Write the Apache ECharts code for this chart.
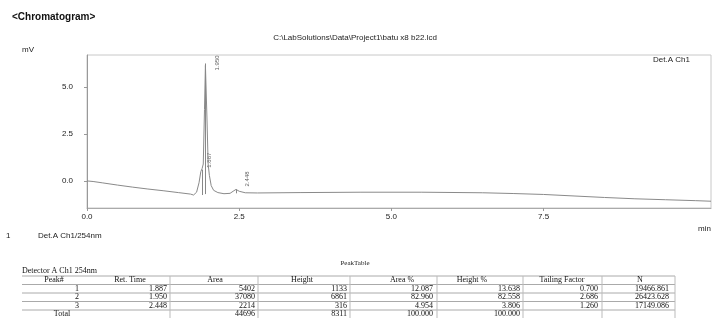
<!DOCTYPE html>
<html>
<head>
<meta charset="utf-8">
<script src="https://cdn.jsdelivr.net/npm/echarts@6/dist/echarts.min.js"></script>
<style>
  html, body { margin: 0; padding: 0; background: #fff; }
  #chart { width: 712px; height: 320px; }
</style>
</head>
<body>
<div id="chart"></div>
<script>
// chromatogram trace: [time (min), signal (mV)]
const trace = [
  [0, 0.0], [0.1, -0.03], [0.25, -0.1], [0.5, -0.22], [0.75, -0.33], [1.0, -0.43],
  [1.25, -0.52], [1.5, -0.62], [1.7, -0.7], [1.75, -0.75], [1.8, -0.6], [1.84, -0.1],
  [1.87, 0.5], [1.89, 0.65], [1.91, 0.9], [1.93, 3.8], [1.945, 6.15], [1.955, 6.25],
  [1.97, 3.4], [1.99, 0.9], [2.01, 0.3], [2.04, -0.25], [2.08, -0.5], [2.15, -0.62],
  [2.25, -0.68], [2.35, -0.66], [2.4, -0.55], [2.448, -0.45], [2.5, -0.55], [2.6, -0.63],
  [2.8, -0.64], [3.5, -0.62], [4.5, -0.6], [5.5, -0.6], [6.5, -0.63], [7.0, -0.67],
  [7.5, -0.72], [8.0, -0.8], [8.5, -0.88], [9.0, -0.95], [9.5, -1.0], [10.0, -1.05], [10.25, -1.08]
];
const peakTimes = [1.887, 1.950, 2.448];
const peakTops = [0.6, 6.25, -0.45];
const peakBases = [-0.75, -0.7, -0.66];
const xTicks = [0, 2.5, 5, 7.5];
const yTicks = [0, 2.5, 5];

// peak table
const tableTitle = 'PeakTable';
const detectorName = 'Detector A Ch1 254nm';
const tableHeader = ['Peak#', 'Ret. Time', 'Area', 'Height', 'Area %', 'Height %', 'Tailing Factor', 'N'];
const peakNo = ['1', '2', '3'];
const retTimes = ['1.887', '1.950', '2.448'];
const areas = ['5402', '37080', '2214'];
const heights = ['1133', '6861', '316'];
const areaPct = ['12.087', '82.960', '4.954'];
const heightPct = ['13.638', '82.558', '3.806'];
const tailing = ['0.700', '2.686', '1.260'];
const plates = ['19466.861', '26423.628', '17149.086'];
const totals = ['Total', '', '44696', '8311', '100.000', '100.000', '', ''];

// layout for the table
const colRight = [79, 167, 255, 347, 433, 520, 598, 669];
const colCenter = [54, 130, 215, 302, 402, 472, 562, 640];
const colLines = [170, 258, 350, 437, 523, 602, 675];
const rowY = [280, 288.5, 297, 305.5, 314];
// label offsets in the rotated frame: [up, right]
const peakLabelOffset = [[2, 7], [-7, 12], [3, 11]];

const chart = echarts.init(document.getElementById('chart'), null, { renderer: 'canvas' });

const font = 'Liberation Sans, Arial, sans-serif';
const serif = 'Liberation Serif, Times New Roman, serif';
const txt = (x, y, text, o = {}) => ({
  type: 'text', x, y,
  style: Object.assign({ text, fill: '#222', font: '8px ' + font, textVerticalAlign: 'middle' }, o)
});

const graphics = [
  txt(12, 17, '<Chromatogram>', { font: 'bold 10px ' + font, fill: '#111' }),
  txt(22, 50, 'mV'),
  txt(355, 38, 'C:\\LabSolutions\\Data\\Project1\\batu x8 b22.lcd', { textAlign: 'center' }),
  txt(653, 60, 'Det.A Ch1'),
  txt(698, 229, 'min'),
  txt(6, 236, '1'),
  txt(38, 236, 'Det.A Ch1/254nm'),
  txt(355, 263, tableTitle, { textAlign: 'center', font: '7px ' + serif }),
  txt(22, 271, detectorName, { font: '8px ' + serif, fill: '#111' })
];

// table lines
[276, 284.5, 293, 301.5, 310].forEach(y => {
  graphics.push({ type: 'line', shape: { x1: 22, y1: y, x2: 675, y2: y }, style: { stroke: '#aaa', lineWidth: 1 } });
});
colLines.forEach(x => {
  graphics.push({ type: 'line', shape: { x1: x, y1: 276, x2: x, y2: 318 }, style: { stroke: '#bbb', lineWidth: 1 } });
});

// table text
tableHeader.forEach((h, i) => {
  graphics.push(txt(colCenter[i], rowY[0], h, { textAlign: 'center', font: '8px ' + serif, fill: '#111' }));
});
const rows = peakNo.map((p, i) => [p, retTimes[i], areas[i], heights[i], areaPct[i], heightPct[i], tailing[i], plates[i]]);
rows.forEach((r, ri) => {
  r.forEach((v, ci) => {
    graphics.push(txt(colRight[ci], rowY[ri + 1], v, { textAlign: 'right', font: '8px ' + serif, fill: '#111' }));
  });
});
totals.forEach((v, ci) => {
  if (!v) return;
  const isLabel = ci === 0;
  graphics.push(txt(isLabel ? 62 : colRight[ci], rowY[4], v,
    { textAlign: isLabel ? 'center' : 'right', font: '8px ' + serif, fill: '#111' }));
});

const option = {
  backgroundColor: '#fff',
  animation: false,
  grid: { left: 87, right: 1, top: 55, bottom: 112, show: true, borderColor: '#c8c8c8', borderWidth: 1 },
  xAxis: {
    type: 'value',
    min: 0,
    max: 10.25,
    axisLine: { show: true, onZero: false, lineStyle: { color: '#aaa' } },
    axisTick: { show: true, customValues: xTicks, length: 3, lineStyle: { color: '#999' } },
    axisLabel: {
      customValues: xTicks, color: '#222', fontSize: 8, fontFamily: font, margin: 5,
      formatter: v => v.toFixed(1)
    },
    splitLine: { show: false }
  },
  yAxis: {
    type: 'value',
    min: -1.44,
    max: 6.7,
    axisLine: { show: true, onZero: false, lineStyle: { color: '#999' } },
    axisTick: { show: true, customValues: yTicks, length: 3, lineStyle: { color: '#999' } },
    axisLabel: {
      customValues: yTicks, color: '#222', fontSize: 8, fontFamily: font, margin: 14,
      formatter: v => v.toFixed(1)
    },
    splitLine: { show: false }
  },
  series: [
    {
      type: 'line',
      data: trace,
      showSymbol: false,
      lineStyle: { color: '#8a8a8a', width: 1 },
      silent: true
    },
    {
      type: 'scatter',
      symbolSize: 0,
      data: peakTimes.map((t, i) => ({
        value: [t, peakTops[i]],
        label: { offset: peakLabelOffset[i] }
      })),
      label: {
        show: true,
        position: 'inside',
        rotate: 90,
        align: 'left',
        verticalAlign: 'middle',
        fontSize: 6,
        fontFamily: font,
        color: '#333',
        formatter: p => p.value[0].toFixed(3)
      },
      markLine: {
        silent: true,
        symbol: 'none',
        label: { show: false },
        lineStyle: { color: '#888', width: 1, type: 'solid' },
        data: peakTimes.map((t, i) => [{ coord: [t, peakBases[i]] }, { coord: [t, peakTops[i]] }])
      }
    }
  ],
  graphic: graphics
};

chart.setOption(option);
</script>
</body>
</html>
